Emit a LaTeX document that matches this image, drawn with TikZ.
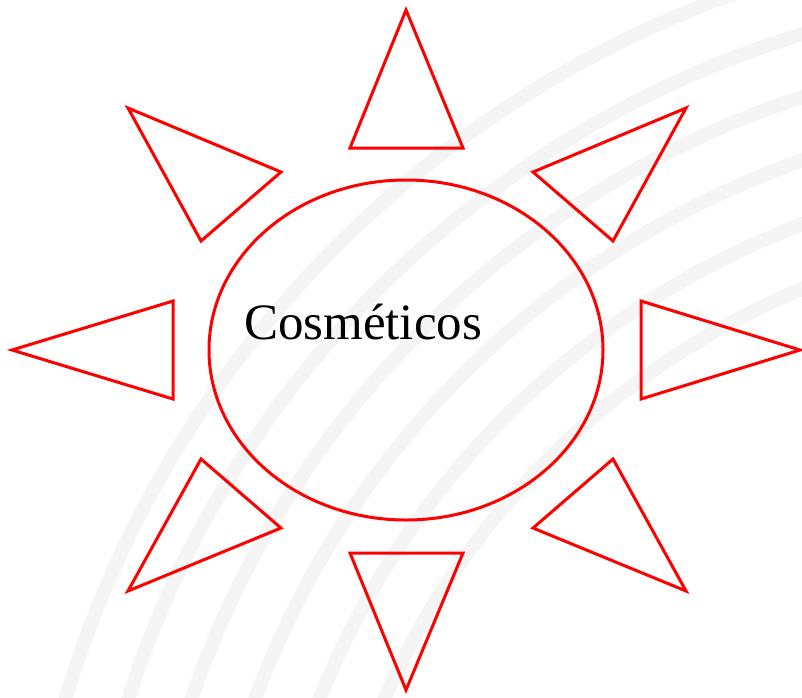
\documentclass[tikz,border=0pt]{standalone}
\usepackage{fontspec}
\setmainfont{Liberation Serif}
\usetikzlibrary{shapes.geometric}
\begin{document}
\begin{tikzpicture}[x=1pt,y=-1pt,
  ray/.style={draw=red,line width=3pt,line join=miter},
  stripe/.style={draw=black!4,line width=14pt}]
\useasboundingbox (0,0) rectangle (802,697);
\begin{scope}
\clip (0,0) rectangle (802,697);
\foreach \r in {780,840,900,960,1020,1080}{
  \draw[stripe] (1100,1010) ++(180:\r) arc[start angle=180,end angle=270,radius=\r];
}
\end{scope}
\node[ellipse,draw=red,line width=3pt,minimum width=394pt,minimum height=340pt,inner sep=0pt] (sun) at (406,350) {};
\node[anchor=base,inner sep=0pt,font=\fontsize{51}{60}\selectfont] (lbl) at (363,339) {Cosméticos};
\coordinate (t1) at (406,10); \coordinate (t2) at (350,148); \coordinate (t3) at (463,148);
\draw[ray] (t1) -- (t2) -- (t3) -- cycle;
\coordinate (b1) at (406,690); \coordinate (b2) at (350,553); \coordinate (b3) at (463,553);
\draw[ray] (b1) -- (b2) -- (b3) -- cycle;
\coordinate (l1) at (12,350); \coordinate (l2) at (173,301); \coordinate (l3) at (173,399);
\draw[ray] (l1) -- (l2) -- (l3) -- cycle;
\coordinate (r1) at (800,350); \coordinate (r2) at (641,301); \coordinate (r3) at (641,399);
\draw[ray] (r1) -- (r2) -- (r3) -- cycle;
\coordinate (ul1) at (128,108); \coordinate (ul2) at (281,172); \coordinate (ul3) at (201,241);
\draw[ray] (ul1) -- (ul2) -- (ul3) -- cycle;
\coordinate (ur1) at (686,108); \coordinate (ur2) at (533,172); \coordinate (ur3) at (613,241);
\draw[ray] (ur1) -- (ur2) -- (ur3) -- cycle;
\coordinate (ll1) at (128,591); \coordinate (ll2) at (201,459); \coordinate (ll3) at (281,528);
\draw[ray] (ll1) -- (ll2) -- (ll3) -- cycle;
\coordinate (lr1) at (686,591); \coordinate (lr2) at (613,459); \coordinate (lr3) at (533,528);
\draw[ray] (lr1) -- (lr2) -- (lr3) -- cycle;
\end{tikzpicture}
\end{document}
